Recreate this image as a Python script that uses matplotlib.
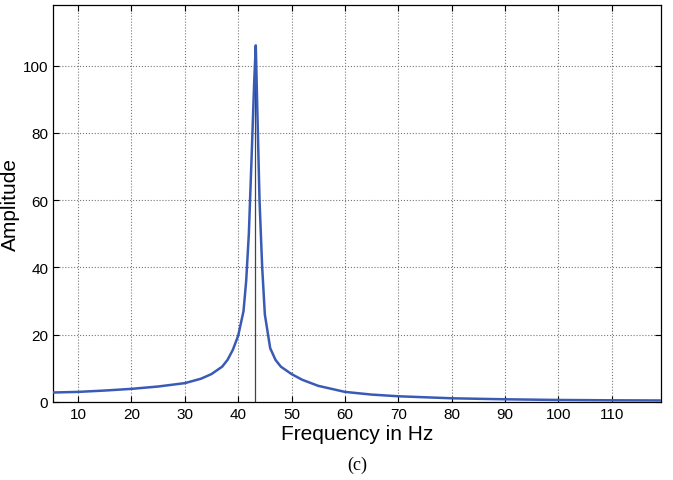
import matplotlib.pyplot as plt

plt.rcParams['font.family'] = ['Liberation Sans', 'DejaVu Sans']

# Data
freq = [5, 10, 15, 20, 25, 30, 33, 35, 37, 38, 39, 40, 41, 41.5, 42, 42.5, 43,
        43.3, 43.6, 44, 44.5, 45, 46, 47, 48, 50, 52, 55, 60, 65, 70, 80, 90,
        100, 110, 119]
amp = [2.8, 3.0, 3.4, 3.9, 4.6, 5.6, 6.9, 8.3, 10.5, 12.5, 15.5, 19.7, 27, 36,
       50, 72, 95, 106, 86, 60, 40, 26, 16, 12.5, 10.5, 8.3, 6.6, 4.8, 3.0,
       2.2, 1.7, 1.1, 0.8, 0.6, 0.5, 0.45]
peak_freq = 43.2
peak_line_top = 100

xticks = [10, 20, 30, 40, 50, 60, 70, 80, 90, 100, 110]
yticks = [0, 20, 40, 60, 80, 100]

fig = plt.figure(figsize=(6.73, 4.81), dpi=100)
ax = fig.add_axes([0.0788, 0.1622, 0.903, 0.8253])

ax.plot(freq, amp, color='#3a5bb5', linewidth=1.8, zorder=3)
ax.plot([peak_freq, peak_freq], [0, peak_line_top], color='#444444', linewidth=0.9, zorder=2)

ax.set_xlim(5.3, 119.2)
ax.set_ylim(0, 118)
ax.set_xticks(xticks)
ax.set_yticks(yticks)
ax.tick_params(direction='in', labelsize=11, length=4, top=True, right=True)
ax.grid(True, linestyle=':', color='#777777', linewidth=0.8)
for s in ax.spines.values():
    s.set_linewidth(0.9)

ax.set_xlabel('Frequency in Hz', fontsize=15, labelpad=2)
ax.set_ylabel('Amplitude', fontsize=15)
ax.yaxis.set_label_coords(-0.054, 0.5)

fig.text(0.531, 0.033, '(c)', fontsize=13, family='Liberation Serif', ha='center', va='center')

fig.savefig('out.png', dpi=100)
